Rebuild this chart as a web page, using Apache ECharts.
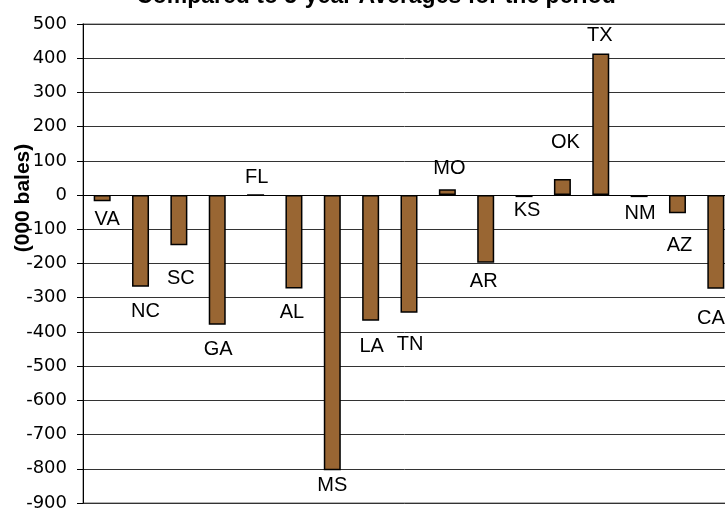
<!DOCTYPE html>
<html>
<head>
<meta charset="utf-8">
<style>
  html, body { margin: 0; padding: 0; background: #fff; }
  #chart { width: 725px; height: 508px; }
</style>
<script src="https://cdn.jsdelivr.net/npm/echarts@6/dist/echarts.min.js"></script>
</head>
<body>
<div id="chart"></div>
<script>
// Change in production by state, thousand bales
const states = ['VA', 'NC', 'SC', 'GA', 'FL', 'AL', 'MS', 'LA', 'TN', 'MO', 'AR', 'KS', 'OK', 'TX', 'NM', 'AZ', 'CA'];
const change = [-18, -268, -147, -379, 0, -273, -804, -367, -344, 17, -198, -6, 47, 414, -6, -53, -274];

// Value axis ticks
const yTicks = { min: -900, max: 500, step: 100 };

// Hand placement of the state tags: distance from bar end (px) and sideways nudge (px)
const labelGap   = [18, 25, 33, 25, 17, 24, 15, 26, 32, 21, 19, 13, 37, 18, 16, 32, 30];
const labelShift = [5, 5, 2, 1, 1, -2, 0, 1, 1, 2, -2, 3, 3, -1, 1, 2, -5];

const tagFont = { color: '#000', fontFamily: '"Liberation Sans", Arial, sans-serif', fontSize: 20 };

const barData = change.map((v, i) => ({
  value: v,
  label: Object.assign({
    show: true,
    formatter: states[i],
    position: v < 0 ? 'bottom' : 'top',
    distance: labelGap[i],
    verticalAlign: 'middle',
    offset: [labelShift[i], 0]
  }, tagFont)
}));

const chart = echarts.init(document.getElementById('chart'), null, { renderer: 'canvas' });
chart.setOption({
  animation: false,
  backgroundColor: '#fff',
  grid: {
    left: 83, top: 24, width: 652, height: 479,
    outerBoundsMode: 'none',
    containLabel: false,
    show: true, borderColor: '#9a9a9a', borderWidth: 1.5, backgroundColor: 'transparent'
  },
  xAxis: {
    type: 'category',
    data: states,
    axisLine: { show: true, onZero: true, lineStyle: { color: '#000', width: 1 } },
    axisTick: { show: false },
    axisLabel: { show: false },
    splitLine: { show: false }
  },
  yAxis: {
    type: 'value',
    min: yTicks.min, max: yTicks.max, interval: yTicks.step,
    axisLine: { show: true, lineStyle: { color: '#000', width: 1 } },
    axisTick: { show: true, inside: false, length: 6, lineStyle: { color: '#000' } },
    axisLabel: { margin: 16, color: '#000', fontFamily: 'DejaVu Sans', fontSize: 18 },
    splitLine: { show: true, lineStyle: { color: '#333', width: 1 } }
  },
  series: [{
    type: 'bar',
    data: barData,
    barWidth: 17,
    itemStyle: { color: '#996633', borderColor: '#000', borderWidth: 1.5 },
    label: tagFont
  }],
  graphic: [
    {
      type: 'text', x: 376, y: -3,
      style: {
        text: 'Compared to 5-year Averages for the period',
        fill: '#000', font: 'bold 23px "Liberation Sans"',
        align: 'center', verticalAlign: 'middle'
      }
    },
    {
      type: 'text', x: 23, y: 198, rotation: Math.PI / 2,
      style: {
        text: '(000 bales)',
        fill: '#000', font: 'bold 21px "Liberation Sans"',
        align: 'center', verticalAlign: 'middle'
      }
    }
  ]
});
</script>
</body>
</html>
